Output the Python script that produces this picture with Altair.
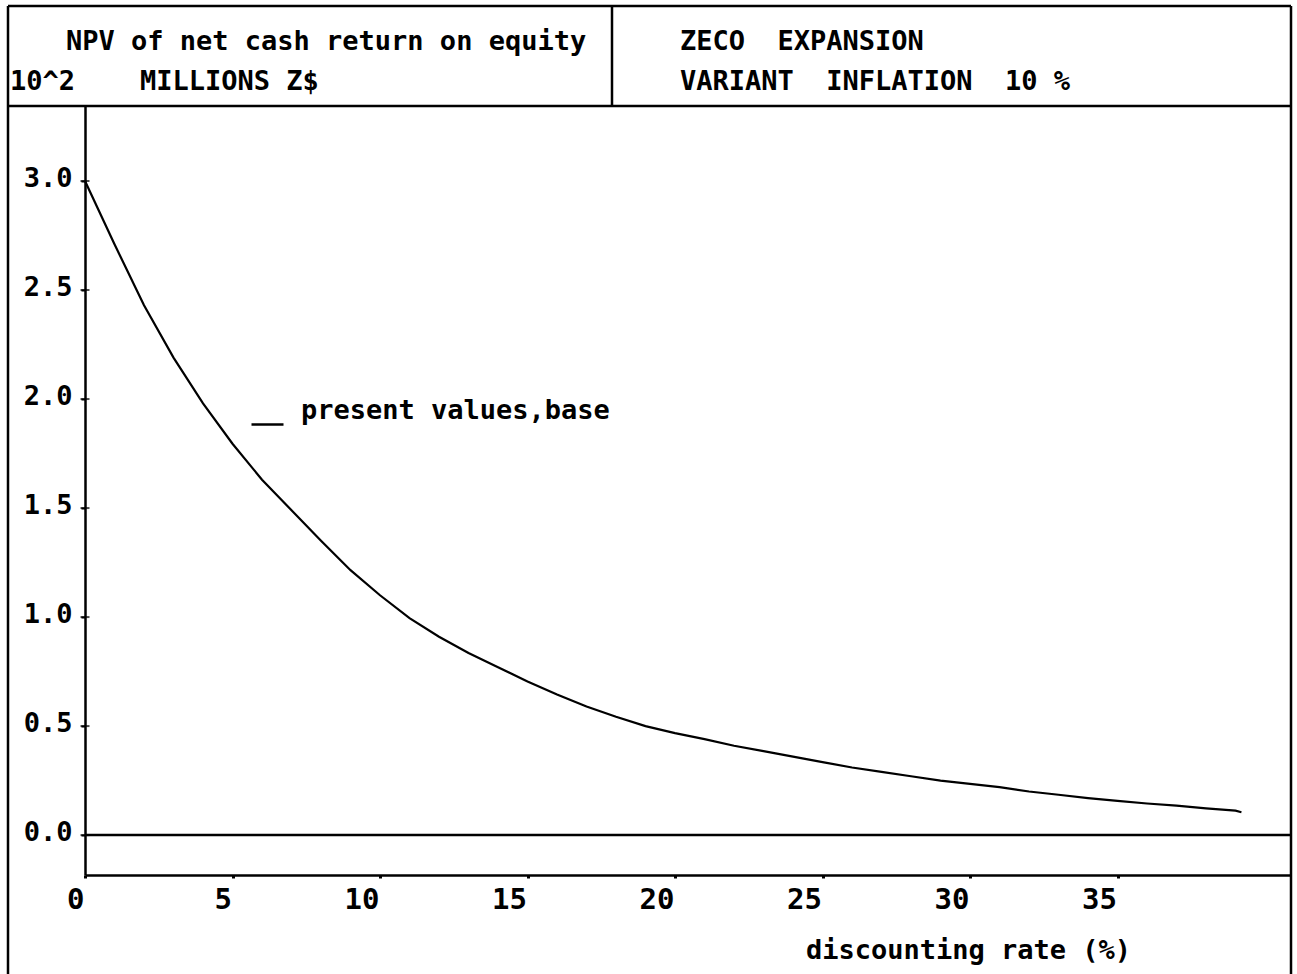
import altair as alt
import pandas as pd

# Discounting rate (%) and NPV of net cash return on equity (10^2 millions Z$)
rates = [0, 1, 2, 3, 4, 5, 6, 7, 8, 9, 10, 11, 12, 13, 14, 15, 16, 17, 18, 19,
         20, 21, 22, 23, 24, 25, 26, 27, 28, 29, 30, 31, 32, 33, 34, 35, 36, 37,
         38, 39, 39.2]
npv = [3.00, 2.71, 2.43, 2.19, 1.98, 1.795, 1.63, 1.49, 1.35, 1.215,
       1.10, 0.995, 0.91, 0.835, 0.77, 0.705, 0.645, 0.59, 0.543, 0.50,
       0.468, 0.44, 0.41, 0.385, 0.36, 0.335, 0.31, 0.29, 0.27, 0.25,
       0.235, 0.22, 0.20, 0.185, 0.17, 0.157, 0.145, 0.135, 0.123, 0.112,
       0.105]
series_name = "present values,base"

x_ticks = [0, 5, 10, 15, 20, 25, 30, 35]
y_ticks = [0.0, 0.5, 1.0, 1.5, 2.0, 2.5, 3.0]

NBSP = "\u00a0"
header_left = ["NPV of net cash return on equity",
               "10^2" + NBSP * 4 + "MILLIONS Z$"]
header_right = ["ZECO" + NBSP * 2 + "EXPANSION",
                "VARIANT" + NBSP * 2 + "INFLATION" + NBSP * 2 + "10 %"]
x_title = "discounting rate (%)"

FONT = "DejaVu Sans Mono"
W, H = 1206, 769

df = pd.DataFrame({"rate": rates, "npv": npv, "series": series_name})
tick_df = pd.DataFrame({"npv": y_ticks})
one = pd.DataFrame({"k": [0]})

xs = alt.Scale(domain=[0, 40.88], nice=False, zero=False)
ys = alt.Scale(domain=[-0.183, 3.344], nice=False, zero=False)

x_axis = alt.Axis(
    values=x_ticks, format="d", grid=False,
    labelFont=FONT, labelFontSize=29, labelFontWeight="bold", labelColor="black",
    labelAlign="right", labelBaseline="top", labelPadding=7, labelOffset=-1,
    labelFlush=False, labelOverlap=False,
    tickSize=3, tickWidth=3, tickColor="black",
    domainColor="black", domainWidth=2.5,
    title=x_title, titleFont=FONT, titleFontSize=27, titleFontWeight="bold",
    titleColor="black", titleX=883, titleY=75, titleAlign="center",
    titleBaseline="middle", titleAnchor="start",
)
y_axis = alt.Axis(
    values=y_ticks, format=".1f", grid=False,
    labelFont=FONT, labelFontSize=27, labelFontWeight="bold", labelColor="black",
    labelBaseline="alphabetic", labelOffset=5, labelPadding=9, labelFlush=False,
    labelOverlap=False,
    tickSize=4, tickWidth=2, tickColor="black",
    domainColor="black", domainWidth=2.5, title=None,
)

curve = alt.Chart(df).mark_line(color="black", strokeWidth=2.2).encode(
    x=alt.X("rate:Q", scale=xs, axis=x_axis),
    y=alt.Y("npv:Q", scale=ys, axis=y_axis),
    color=alt.Color(
        "series:N",
        scale=alt.Scale(range=["black"]),
        legend=alt.Legend(
            orient="none", legendX=165, legendY=301, padding=0, title=None,
            symbolType="stroke", symbolSize=1024, symbolStrokeWidth=2.5,
            labelFont=FONT, labelFontSize=27, labelFontWeight="bold",
            labelColor="black", labelBaseline="bottom", labelOffset=16,
            labelLimit=0,
        ),
    ),
)

zero_line = alt.Chart(one).mark_rule(color="black", strokeWidth=2.5).encode(
    y=alt.datum(0)
)

# small cross ticks straddling the value axis
y_cross = alt.Chart(tick_df).mark_tick(
    orient="horizontal", size=9, thickness=2, color="black"
).encode(y=alt.Y("npv:Q", scale=ys, axis=y_axis), x=alt.value(0))


def hrule(y, x0, x1):
    return alt.Chart(one).mark_rule(color="black", strokeWidth=2.5).encode(
        x=alt.value(x0), x2=alt.value(x1), y=alt.value(y)
    )


def vrule(x, y0, y1):
    return alt.Chart(one).mark_rule(color="black", strokeWidth=2.5).encode(
        x=alt.value(x), y=alt.value(y0), y2=alt.value(y1)
    )


def label(text, x, y):
    return alt.Chart(one).mark_text(
        align="left", baseline="middle", font=FONT, fontSize=27,
        fontWeight="bold", color="black",
    ).encode(text=alt.value(text), x=alt.value(x), y=alt.value(y))


frame = [
    hrule(-100, -77, W),   # top edge
    hrule(0, -77, W),      # header bottom
    vrule(-77, -100, 868), # left edge
    vrule(W, -100, 868),   # right edge
    vrule(527, -100, 0),   # header divider
]
header = [
    label(header_left[0], -19, -64),
    label(header_left[1], -75, -24),
    label(header_right[0], 595, -64),
    label(header_right[1], 595, -24),
]

chart = alt.layer(
    zero_line, y_cross, curve, *frame, *header
).properties(
    width=W, height=H,
    padding={"left": 85, "top": 106, "right": 6, "bottom": 99},
    autosize=alt.AutoSizeParams(type="none"),
    background="white",
).configure_view(strokeWidth=0)

chart.save("out.html", embed_options={"renderer": "svg", "actions": False})
